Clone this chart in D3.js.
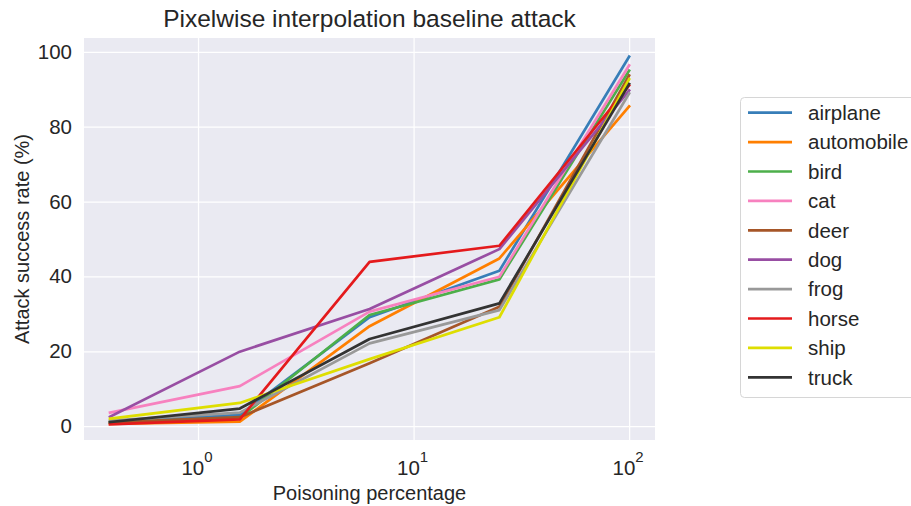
<!DOCTYPE html>
<html>
<head>
<meta charset="utf-8">
<script src="https://cdn.jsdelivr.net/npm/d3@7"></script>
<style>
  body { margin: 0; background: #fff; }
  svg { display: block; font-family: "Liberation Sans", Arial, sans-serif; }
</style>
</head>
<body>
<div id="chart"></div>
<script>
// Poisoning percentages (x, log scale)
const poisonPct = [100 / 256, 100 / 64, 100 / 16, 100 / 4, 100];

const classNames = ['airplane', 'automobile', 'bird', 'cat', 'deer', 'dog', 'frog', 'horse', 'ship', 'truck'];
const classColors = ['#377eb8', '#ff7f00', '#4daf4a', '#f781bf', '#a65628', '#984ea3', '#999999', '#e41a1c', '#dede00', '#333333'];

// Attack success rate (%) per class
const airplane   = [1.0, 3.0, 29.1, 41.5, 98.7];
const automobile = [0.6, 1.2, 26.7, 44.8, 85.4];
const bird       = [1.0, 2.2, 29.7, 39.2, 95.0];
const cat        = [3.6, 10.7, 30.6, 39.9, 96.4];
const deer       = [1.0, 2.4, 16.8, 31.9, 93.7];
const dog        = [2.5, 19.9, 31.3, 47.3, 89.7];
const frog       = [1.5, 3.6, 22.1, 31.0, 88.9];
const horse      = [0.5, 1.8, 43.9, 48.2, 91.0];
const ship       = [2.0, 6.2, 17.9, 29.1, 92.7];
const truck      = [1.1, 4.7, 23.3, 32.8, 91.4];

const seriesValues = [airplane, automobile, bird, cat, deer, dog, frog, horse, ship, truck];

const yTicks = [0, 20, 40, 60, 80, 100];
const xTicks = [1, 10, 100];

const W = 911, H = 506;
const plot = { left: 84, right: 655, top: 38, bottom: 440 };
const textColor = '#262626';

const svg = d3.select('#chart').append('svg')
    .attr('width', W)
    .attr('height', H);

// Background of axes
svg.append('rect')
    .attr('x', plot.left)
    .attr('y', plot.top)
    .attr('width', plot.right - plot.left)
    .attr('height', plot.bottom - plot.top)
    .attr('fill', '#eaeaf2');

const xScale = d3.scaleLog()
    .domain([Math.pow(10, -0.529), Math.pow(10, 2.12)])
    .range([plot.left, plot.right]);

const yScale = d3.scaleLinear()
    .domain([-3.7, 103.7])
    .range([plot.bottom, plot.top]);

// Grid
svg.append('g')
    .attr('transform', `translate(0,${plot.bottom})`)
    .call(d3.axisBottom(xScale).tickValues(xTicks).tickSize(-(plot.bottom - plot.top)).tickFormat(''))
    .call(g => g.select('.domain').remove())
    .call(g => g.selectAll('line').attr('stroke', '#fff').attr('stroke-width', 1.25));

svg.append('g')
    .attr('transform', `translate(${plot.left},0)`)
    .call(d3.axisLeft(yScale).tickValues(yTicks).tickSize(-(plot.right - plot.left)).tickFormat(''))
    .call(g => g.select('.domain').remove())
    .call(g => g.selectAll('line').attr('stroke', '#fff').attr('stroke-width', 1.25));

// Y tick labels
svg.append('g')
    .attr('transform', `translate(${plot.left},0)`)
    .call(d3.axisLeft(yScale).tickValues(yTicks).tickSize(0).tickPadding(12))
    .call(g => g.select('.domain').remove())
    .call(g => g.selectAll('text')
        .attr('fill', textColor)
        .style('font-size', '20.5px')
        .style('font-family', '"Liberation Sans", Arial, sans-serif'));

// X tick labels with superscript exponent
const xl = svg.append('g');
xTicks.forEach(t => {
    const txt = xl.append('text')
        .attr('x', xScale(t) - 1)
        .attr('y', 475)
        .attr('text-anchor', 'middle')
        .attr('fill', textColor)
        .style('font-size', '20.5px');
    txt.append('tspan').text('10');
    txt.append('tspan')
        .attr('dy', -13)
        .style('font-size', '15px')
        .text(Math.round(Math.log10(t)));
});

// Lines
const line = d3.line()
    .x((d, i) => xScale(poisonPct[i]))
    .y(d => yScale(d));

svg.append('g')
    .selectAll('path')
    .data(seriesValues)
    .join('path')
    .attr('d', line)
    .attr('fill', 'none')
    .attr('stroke', (d, i) => classColors[i])
    .attr('stroke-width', 2.7)
    .attr('stroke-linejoin', 'round')
    .attr('stroke-linecap', 'square');

// Title and labels
svg.append('text')
    .attr('x', (plot.left + plot.right) / 2)
    .attr('y', 27)
    .attr('text-anchor', 'middle')
    .attr('fill', textColor)
    .style('font-size', '24.5px')
    .text('Pixelwise interpolation baseline attack');

svg.append('text')
    .attr('x', (plot.left + plot.right) / 2)
    .attr('y', 500)
    .attr('text-anchor', 'middle')
    .attr('fill', textColor)
    .style('font-size', '20px')
    .text('Poisoning percentage');

svg.append('text')
    .attr('transform', `translate(29,${(plot.top + plot.bottom) / 2}) rotate(-90)`)
    .attr('text-anchor', 'middle')
    .attr('fill', textColor)
    .style('font-size', '20px')
    .text('Attack success rate (%)');

// Legend
const legend = svg.append('g');
legend.append('rect')
    .attr('x', 740.5)
    .attr('y', 97.5)
    .attr('width', 180)
    .attr('height', 300)
    .attr('rx', 4)
    .attr('fill', '#fff')
    .attr('stroke', '#d6d6d6')
    .attr('stroke-width', 1);

const rowY = i => 112.7 + i * 29.4;
const items = legend.selectAll('g.item')
    .data(classNames)
    .join('g')
    .attr('class', 'item');

items.append('line')
    .attr('x1', 748)
    .attr('x2', 792)
    .attr('y1', (d, i) => rowY(i))
    .attr('y2', (d, i) => rowY(i))
    .attr('stroke', (d, i) => classColors[i])
    .attr('stroke-width', 2.7);

items.append('text')
    .attr('x', 808)
    .attr('y', (d, i) => rowY(i) + 7.3)
    .attr('fill', textColor)
    .style('font-size', '20.5px')
    .text(d => d);
</script>
</body>
</html>
